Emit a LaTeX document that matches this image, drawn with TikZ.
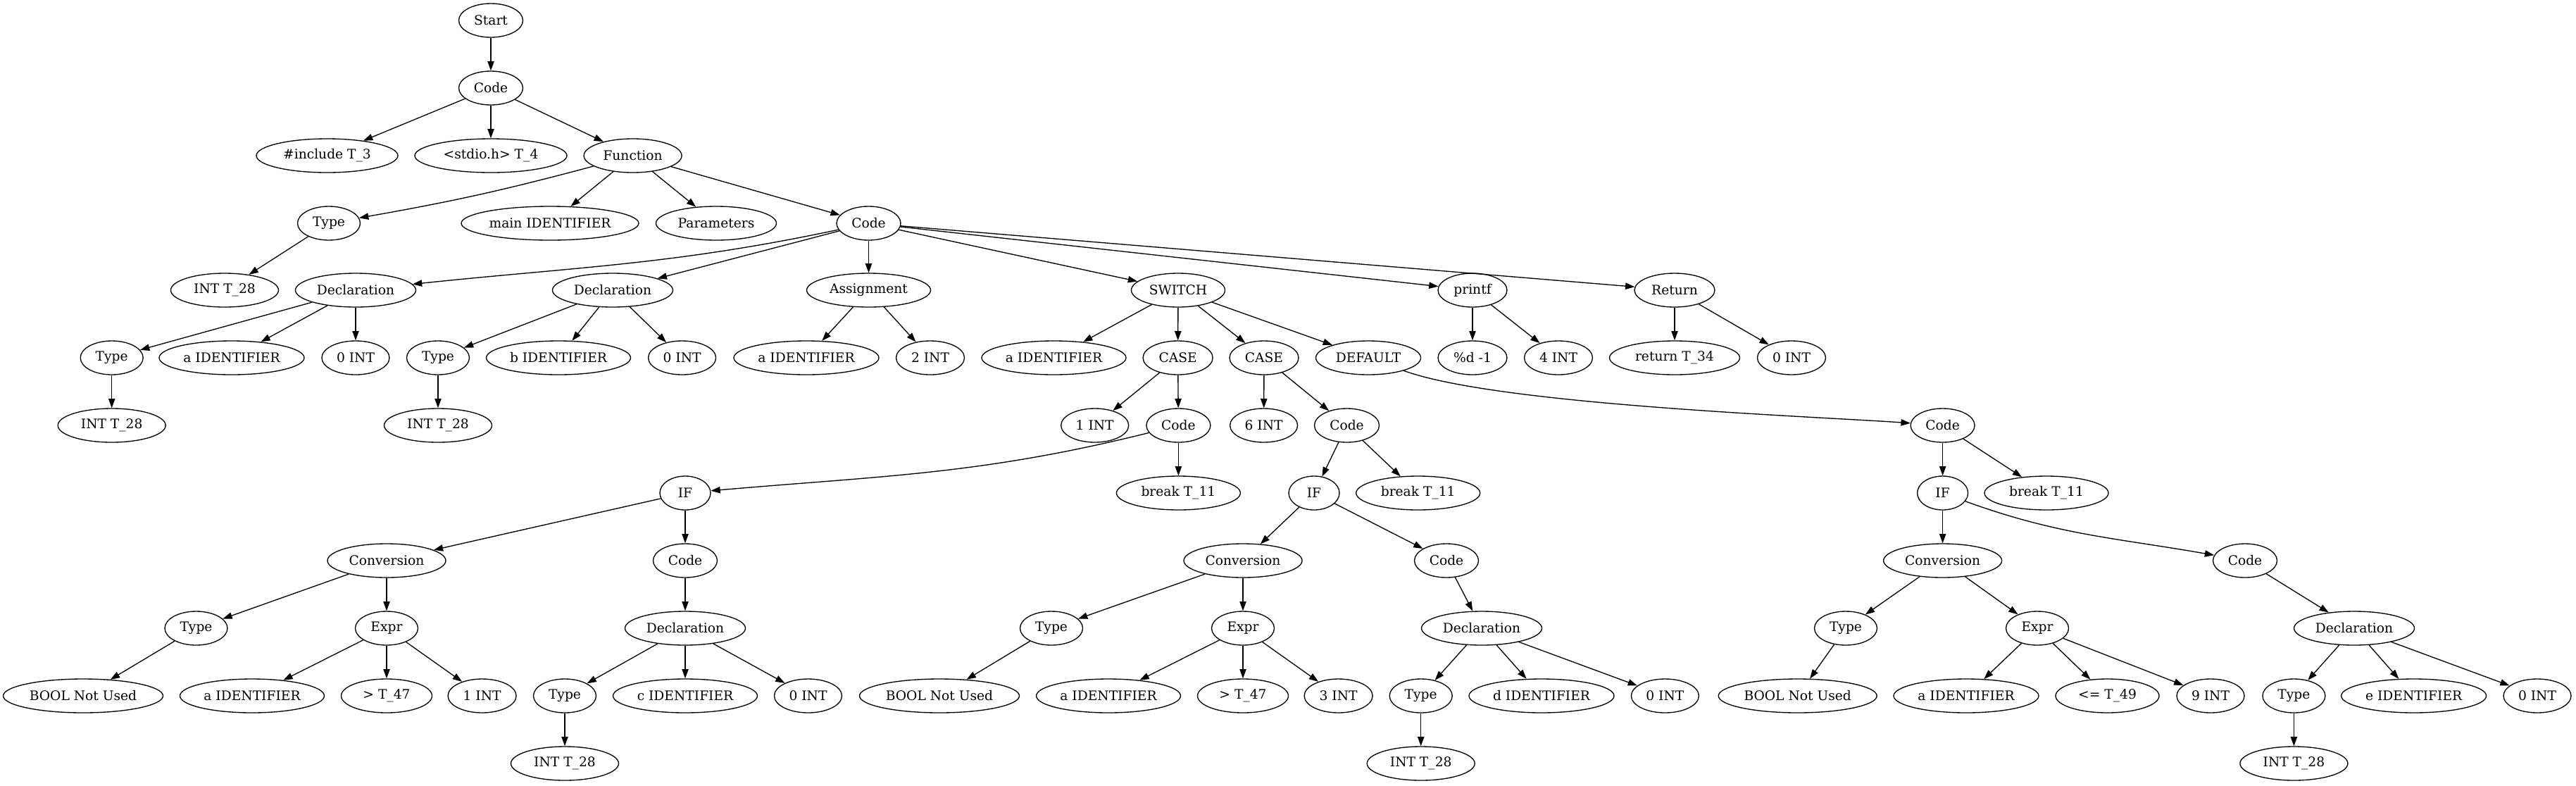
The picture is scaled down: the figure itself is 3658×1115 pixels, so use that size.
\documentclass[tikz,border=0pt]{standalone}
\usepackage{fontspec}
\setmainfont{DejaVu Serif}
\usetikzlibrary{arrows.meta,shapes.geometric}

\begin{document}
\begin{tikzpicture}[x=0.75pt,y=-0.75pt,->,>={Triangle[length=10pt,width=7pt]},line width=1pt,
  ast/.style={draw,ellipse,minimum width=0.75pt*#1,minimum height=36pt,inner sep=0pt,
    font=\fontsize{14pt}{16pt}\selectfont}]
  \useasboundingbox (0,0) rectangle (3658,1115);
  % ranks 0 - 3
  \node[ast=91]  (start)  at (697,29)     {Start};
  \node[ast=91]  (code)   at (697,125)    {Code};
  \node[ast=201] (incl)   at (464.5,221)  {\#include T\_3};
  \node[ast=216] (stdio)  at (697,221)    {<stdio.h> T\_4};
  \node[ast=139] (func)   at (898.6,221)  {Function};
  \node[ast=89]  (ftype)  at (467,317)    {Type};
  \node[ast=252] (fname)  at (781,317)    {main IDENTIFIER};
  \node[ast=171] (params) at (1017,317)   {Parameters};
  \node[ast=91]  (fcode)  at (1233.5,317) {Code};
  % rank 4
  \node[ast=153] (fint)   at (319,412)    {INT T\_28};
  \node[ast=171] (decla)  at (505,412)    {Declaration};
  \node[ast=171] (declb)  at (870,412)    {Declaration};
  \node[ast=176] (asgn)   at (1233.5,412) {Assignment};
  \node[ast=133] (swtch)  at (1673,412)   {SWITCH};
  \node[ast=98]  (prnt)   at (2091,412)   {printf};
  \node[ast=114] (ret)    at (2378,412)   {Return};
  % rank 5
  \node[ast=89]  (tya)    at (158.7,508)  {Type};
  \node[ast=206] (ida)    at (329,508)    {a IDENTIFIER};
  \node[ast=96]  (zeroa)  at (505,508)    {0 INT};
  \node[ast=89]  (tyb)    at (622,508)    {Type};
  \node[ast=205] (idb)    at (793,508)    {b IDENTIFIER};
  \node[ast=96]  (zerob)  at (968.6,508)  {0 INT};
  \node[ast=206] (asid)   at (1145,508)   {a IDENTIFIER};
  \node[ast=97]  (two)    at (1321,508)   {2 INT};
  \node[ast=205] (swid)   at (1496.5,508) {a IDENTIFIER};
  \node[ast=99]  (casea)  at (1672.6,508) {CASE};
  \node[ast=98]  (caseb)  at (1795,508)   {CASE};
  \node[ast=149] (dflt)   at (1943,508)   {DEFAULT};
  \node[ast=98]  (fmt)    at (2091,508)   {\%d -1};
  \node[ast=97]  (four)   at (2213,508)   {4 INT};
  \node[ast=185] (rtok)   at (2378,508)   {return T\_34};
  \node[ast=97]  (rzero)  at (2544,508)   {0 INT};
  % rank 6
  \node[ast=153] (inta)   at (158.7,604)  {INT T\_28};
  \node[ast=153] (intb)   at (622,604)    {INT T\_28};
  \node[ast=96]  (one)    at (1554.7,604) {1 INT};
  \node[ast=91]  (codea)  at (1673.4,604) {Code};
  \node[ast=96]  (six)    at (1794.6,604) {6 INT};
  \node[ast=92]  (codeb)  at (1912.5,604) {Code};
  \node[ast=91]  (codec)  at (2758.6,604) {Code};
  % rank 7
  \node[ast=72]  (ifa)    at (973,700)    {IF};
  \node[ast=176] (brka)   at (1673.4,700) {break T\_11};
  \node[ast=72]  (ifb)    at (1866,700)   {IF};
  \node[ast=176] (brkb)   at (2013.7,700) {break T\_11};
  \node[ast=72]  (ifc)    at (2758.6,700) {IF};
  \node[ast=176] (brkc)   at (2906,700)   {break T\_11};
  % rank 8
  \node[ast=168] (conva)  at (549,796)    {Conversion};
  \node[ast=91]  (bodya)  at (973,796)    {Code};
  \node[ast=168] (convb)  at (1765,796)   {Conversion};
  \node[ast=91]  (bodyb)  at (2054,796)   {Code};
  \node[ast=168] (convc)  at (2758.6,796) {Conversion};
  \node[ast=91]  (bodyc)  at (3188,796)   {Code};
  % rank 9
  \node[ast=89]  (tyca)   at (278.5,892)  {Type};
  \node[ast=89]  (expa)   at (549,892)    {Expr};
  \node[ast=171] (decc)   at (973,892)    {Declaration};
  \node[ast=89]  (tycb)   at (1493,892)   {Type};
  \node[ast=89]  (expb)   at (1765,892)   {Expr};
  \node[ast=171] (decd)   at (2104,892)   {Declaration};
  \node[ast=89]  (tycc)   at (2621,892)   {Type};
  \node[ast=89]  (expc)   at (2893,892)   {Expr};
  \node[ast=171] (dece)   at (3343,892)   {Declaration};
  % rank 10
  \node[ast=227] (boola)  at (118,988)    {BOOL Not Used};
  \node[ast=205] (ea1)    at (358,988)    {a IDENTIFIER};
  \node[ast=129] (ea2)    at (549,988)    {> T\_47};
  \node[ast=97]  (ea3)    at (684.6,988)  {1 INT};
  \node[ast=89]  (tyc)    at (802,988)    {Type};
  \node[ast=205] (idc)    at (973,988)    {c IDENTIFIER};
  \node[ast=96]  (zeroc)  at (1147.5,988) {0 INT};
  \node[ast=227] (boolb)  at (1334,988)   {BOOL Not Used};
  \node[ast=205] (eb1)    at (1574,988)   {a IDENTIFIER};
  \node[ast=129] (eb2)    at (1765,988)   {> T\_47};
  \node[ast=97]  (eb3)    at (1900.6,988) {3 INT};
  \node[ast=89]  (tyd)    at (2017.7,988) {Type};
  \node[ast=206] (idd)    at (2189,988)   {d IDENTIFIER};
  \node[ast=96]  (zerod)  at (2364.4,988) {0 INT};
  \node[ast=225] (boolc)  at (2552.7,988) {BOOL Not Used};
  \node[ast=206] (ec1)    at (2792,988)   {a IDENTIFIER};
  \node[ast=147] (ec2)    at (2992.5,988) {<= T\_49};
  \node[ast=96]  (ec3)    at (3139,988)   {9 INT};
  \node[ast=89]  (tye)    at (3257.4,988) {Type};
  \node[ast=206] (ide)    at (3427.6,988) {e IDENTIFIER};
  \node[ast=96]  (zeroe)  at (3603,988)   {0 INT};
  % rank 11
  \node[ast=153] (intc)   at (802,1084)   {INT T\_28};
  \node[ast=153] (intd)   at (2017.7,1084) {INT T\_28};
  \node[ast=153] (inte)   at (3257.4,1084) {INT T\_28};

  \path (start) edge (code)
        (code)  edge (incl) edge (stdio) edge (func)
        (func)  edge [out=195,in=10] (ftype) edge (fname) edge (params) edge (fcode)
        (ftype) edge (fint)
        (fcode) edge [out=192,in=6] (decla) edge (declb) edge (asgn)
                edge (swtch) edge (prnt) edge (ret)
        (decla) edge (tya) edge (ida) edge (zeroa)
        (tya)   edge (inta)
        (declb) edge (tyb) edge (idb) edge (zerob)
        (tyb)   edge (intb)
        (asgn)  edge (asid) edge (two)
        (swtch) edge (swid) edge (casea) edge (caseb) edge (dflt)
        (prnt)  edge (fmt) edge (four)
        (ret)   edge (rtok) edge (rzero)
        (casea) edge (one) edge (codea)
        (caseb) edge (six) edge (codeb)
        (dflt)  edge [out=-20,in=176,looseness=0.5] (codec);
  % the three IF branches
  \path (codea) edge [out=194,in=5] (ifa) edge (brka)
        (codeb) edge (ifb) edge (brkb)
        (codec) edge (ifc) edge (brkc)
        (ifa)   edge (conva) edge (bodya)
        (ifb)   edge (convb) edge (bodyb)
        (ifc)   edge (convc) edge [out=-20,in=170] (bodyc)
        (conva) edge (tyca) edge (expa)
        (convb) edge (tycb) edge (expb)
        (convc) edge (tycc) edge (expc)
        (tyca)  edge (boola)
        (tycb)  edge (boolb)
        (tycc)  edge (boolc)
        (expa)  edge (ea1) edge (ea2) edge (ea3)
        (expb)  edge (eb1) edge (eb2) edge (eb3)
        (expc)  edge (ec1) edge (ec2) edge (ec3)
        (bodya) edge (decc)
        (bodyb) edge (decd)
        (bodyc) edge (dece)
        (decc)  edge (tyc) edge (idc) edge (zeroc)
        (decd)  edge (tyd) edge (idd) edge (zerod)
        (dece)  edge (tye) edge (ide) edge (zeroe)
        (tyc)   edge (intc)
        (tyd)   edge (intd)
        (tye)   edge (inte);
\end{tikzpicture}
\end{document}
